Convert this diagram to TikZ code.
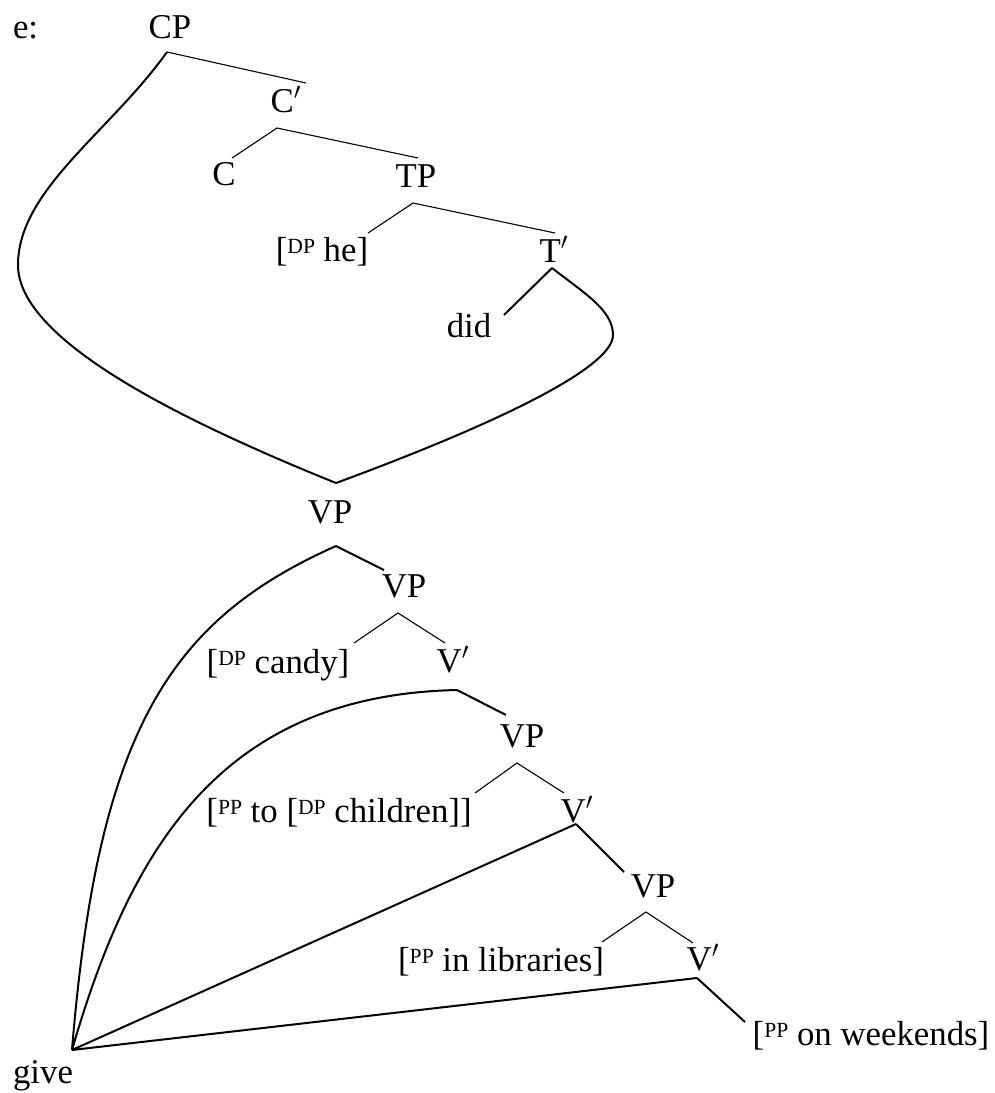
\documentclass[tikz,border=0pt]{standalone}
\usepackage{fontspec}
\setmainfont{Liberation Serif}
\newcommand{\sups}[1]{\raisebox{4pt}{\fontsize{10.8pt}{11pt}\selectfont #1}}
\tikzset{
  lab/.style={inner sep=0pt, outer sep=0pt, anchor=base, font=\fontsize{17.4pt}{20pt}\selectfont},
  branch/.style={line width=0.55pt},
  movement/.style={line width=1pt},
}
\begin{document}
\begin{tikzpicture}[x=0.5pt, y=-0.5pt]
\useasboundingbox (0,0) rectangle (995,1093);
% labels
\node[lab, anchor=base west] (e) at (13,38) {e:};
\node[lab] (CP) at (170,38) {CP};
\node[lab] (Cbar) at (286,112) {C$'$};
\node[lab] (C) at (224,185) {C};
\node[lab] (TP) at (416,187) {TP};
\node[lab] (he) at (322,261) {[\sups{DP} he]};
\node[lab] (Tbar) at (554,262) {T$'$};
\node[lab] (did) at (469,337) {did};
\node[lab] (VPa) at (330,523) {VP};
\node[lab] (VPb) at (404,597) {VP};
\node[lab] (candy) at (278,673) {[\sups{DP} candy]};
\node[lab] (Vbara) at (453,672) {V$'$};
\node[lab] (VPc) at (522,747) {VP};
\node[lab] (children) at (339,822) {[\sups{PP} to [\sups{DP} children]]};
\node[lab] (Vbarb) at (577,822) {V$'$};
\node[lab] (VPd) at (653,897) {VP};
\node[lab] (libraries) at (501,971) {[\sups{PP} in libraries]};
\node[lab] (Vbarc) at (703,970) {V$'$};
\node[lab] (weekends) at (871,1045) {[\sups{PP} on weekends]};
\node[lab] (give) at (43,1083) {give};
% junction / attachment points
\coordinate (cpb) at (167,52);
\coordinate (cbart) at (306,83);
\coordinate (cbarb) at (277,128);
\coordinate (ct) at (232,158);
\coordinate (tpt) at (418,158);
\coordinate (tpb) at (413,203);
\coordinate (het) at (368,233);
\coordinate (tbart) at (555,233);
\coordinate (tbarb) at (552,268);
\coordinate (didt) at (504,315);
\coordinate (vpt) at (336,483);
\coordinate (vpb) at (336,546);
\coordinate (vptwot) at (384,570);
\coordinate (vptwob) at (398,613);
\coordinate (candyt) at (354,643);
\coordinate (vbart) at (445,643);
\coordinate (vbarb) at (457,690);
\coordinate (vpthreet) at (506,715);
\coordinate (vpthreeb) at (517,763);
\coordinate (childt) at (475,793);
\coordinate (vbartwot) at (564,793);
\coordinate (vbartwob) at (576,824);
\coordinate (vpfourt) at (624,872);
\coordinate (vpfourb) at (646,912);
\coordinate (libt) at (602,942);
\coordinate (vbarthreet) at (693,943);
\coordinate (vbarthreeb) at (697,978);
\coordinate (weekt) at (745,1022);
\coordinate (gv) at (72,1050);
% upper tree
\draw[branch] (cpb) -- (cbart);
\draw[branch] (ct) -- (cbarb) -- (tpt);
\draw[branch] (het) -- (tpb) -- (tbart);
\draw[movement] (tbarb) -- (didt);
\draw[movement] (cpb) .. controls (110,132) and (18,190) .. (18,265)
  .. controls (18,340) and (180,420) .. (vpt);
\draw[movement] (tbarb) .. controls (584,293) and (613,310) .. (613,335)
  .. controls (613,370) and (480,430) .. (vpt);
% lower tree
\draw[movement] (vpb) -- (vptwot);
\draw[branch] (candyt) -- (vptwob) -- (vbart);
\draw[movement] (vbarb) -- (vpthreet);
\draw[branch] (childt) -- (vpthreeb) -- (vbartwot);
\draw[movement] (vbartwob) -- (vpfourt);
\draw[branch] (libt) -- (vpfourb) -- (vbarthreet);
\draw[movement] (vbarthreeb) -- (weekt);
% movement lines to give
\draw[movement] (gv) .. controls (98,730) and (170,620) .. (vpb);
\draw[movement] (gv) .. controls (130,850) and (220,695) .. (vbarb);
\draw[movement] (gv) -- (vbartwob);
\draw[movement] (gv) -- (vbarthreeb);
\end{tikzpicture}
\end{document}
